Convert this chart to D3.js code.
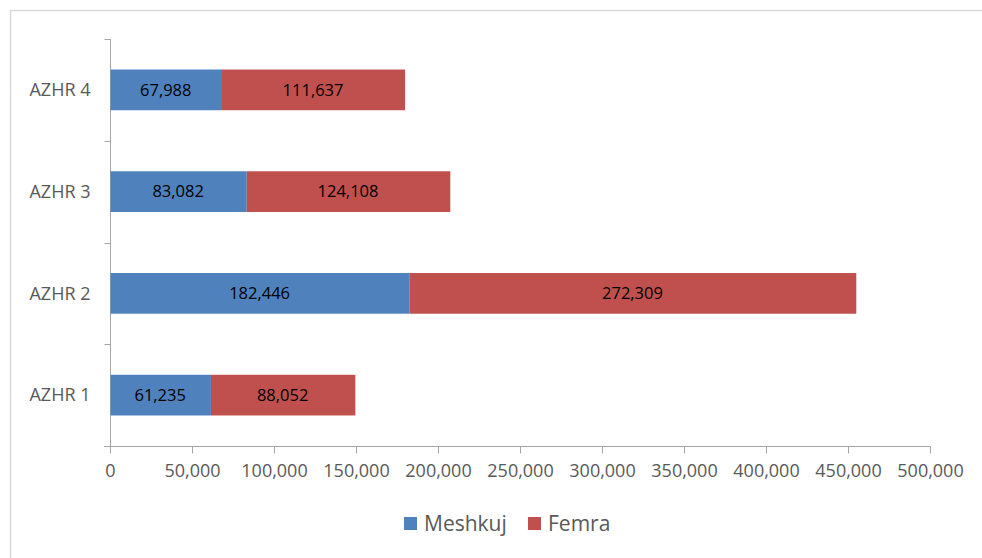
<!DOCTYPE html>
<html><head><meta charset="utf-8">
<script src="https://cdn.jsdelivr.net/npm/d3@7"></script>
<style>body{margin:0;background:#fff;} svg{display:block;}</style>
</head><body>
<svg id="c" width="982" height="558"></svg>
<script>
const categories = ["AZHR 1", "AZHR 2", "AZHR 3", "AZHR 4"];
const meshkuj = [61235, 182446, 83082, 67988];
const femra = [88052, 272309, 124108, 111637];
const seriesNames = ["Meshkuj", "Femra"];
const colors = ["#4F81BD", "#C0504D"];
const xTicks = [0, 50000, 100000, 150000, 200000, 250000, 300000, 350000, 400000, 450000, 500000];

const svg = d3.select("#c");
const font = "'Open Sans', 'Liberation Sans', sans-serif";
// outer border
svg.append("path").attr("d", "M10.5,558 L10.5,10.5 L982,10.5").attr("fill", "none").attr("stroke", "#D9D9D9").attr("stroke-width", 1.5);

const L = 110, R = 930, T = 39, B = 446;
const x = d3.scaleLinear().domain([0, 500000]).range([L, R]);
const y = d3.scaleBand().domain(categories.slice().reverse()).range([T, B]).paddingInner(0.6).paddingOuter(0.3);
const yb = d3.scaleBand().domain(categories.slice().reverse()).range([T, B]);
const axisColor = "#A6A6A6";

// x axis
const gx = svg.append("g").attr("transform", `translate(0,${B + 0.5})`)
  .call(d3.axisBottom(x).tickValues(xTicks).tickSize(7).tickFormat(d3.format(",")));
gx.select(".domain").attr("stroke", axisColor).attr("d", `M${L - 6},0H${R + 0.5}`);
gx.selectAll(".tick line").attr("stroke", axisColor);
gx.selectAll(".tick text").attr("fill", "#595959").attr("font-size", 18).attr("font-family", font)
  .attr("y", 24).attr("dy", "0.35em");

// y axis
const gy = svg.append("g").attr("transform", `translate(${L + 0.5},0)`);
gy.append("line").attr("x1", 0).attr("x2", 0).attr("y1", T).attr("y2", B + 7).attr("stroke", axisColor);
const bounds = yb.domain().map(d => yb(d)).concat([B]);
gy.selectAll("line.t").data(bounds).join("line").attr("class", "t")
  .attr("x1", -6).attr("x2", 0).attr("y1", d => Math.round(d) + 0.5).attr("y2", d => Math.round(d) + 0.5).attr("stroke", axisColor);
gy.selectAll("text").data(categories).join("text")
  .attr("x", -20).attr("y", d => yb(d) + yb.bandwidth() / 2).attr("dy", "0.35em")
  .attr("text-anchor", "end").attr("fill", "#595959").attr("font-size", 18).attr("font-family", font).text(d => d);

// bars
const data = categories.map((c, i) => ({cat: c, vals: [meshkuj[i], femra[i]]}));
data.forEach(d => {
  let acc = 0;
  d.vals.forEach((v, s) => {
    const x0 = x(acc), x1 = x(acc + v);
    svg.append("rect").attr("x", x0 + 0.5).attr("y", y(d.cat)).attr("width", x1 - x0).attr("height", y.bandwidth()).attr("fill", colors[s]);
    svg.append("text").attr("x", (x0 + x1) / 2).attr("y", y(d.cat) + y.bandwidth() / 2).attr("dy", "0.35em")
      .attr("text-anchor", "middle").attr("font-size", 16.5).attr("font-family", font).attr("fill", "#000")
      .text(d3.format(",")(v));
    acc += v;
  });
});

// legend
const legX = [404, 528];
seriesNames.forEach((n, i) => {
  svg.append("rect").attr("x", legX[i]).attr("y", 517).attr("width", 13).attr("height", 13).attr("fill", colors[i]);
  svg.append("text").attr("x", legX[i] + 20).attr("y", 523.5).attr("dy", "0.35em").attr("font-size", 21)
    .attr("font-family", font).attr("fill", "#595959").text(n);
});
</script>
</body></html>
